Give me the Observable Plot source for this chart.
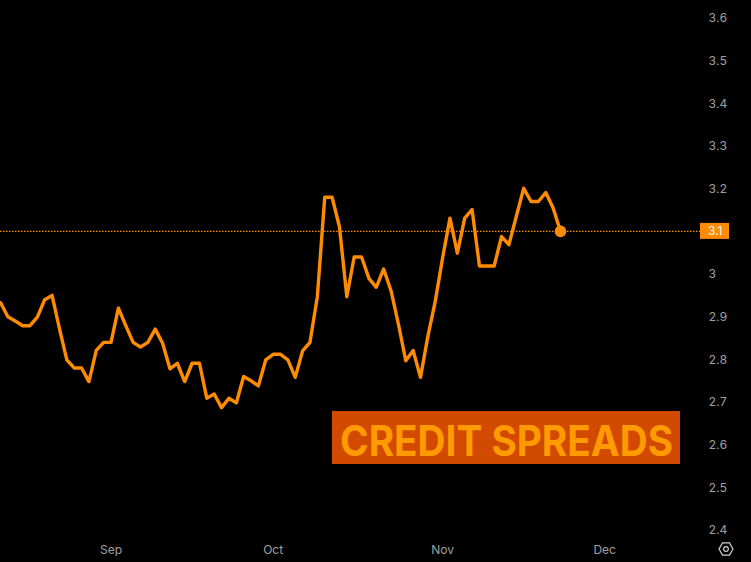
<!DOCTYPE html>
<html><head><meta charset="utf-8">
<script src="https://cdn.jsdelivr.net/npm/d3@7"></script>
<script src="https://cdn.jsdelivr.net/npm/@observablehq/plot@0.6"></script>
<style>
html,body{margin:0;padding:0;background:#000;}
#chart{position:relative;width:751px;height:562px;overflow:hidden;}
</style></head><body><div id="chart"></div>
<script>
// Daily credit spread readings (one per trading day)
const spreadValues = [
  2.934, 2.901, 2.891, 2.880, 2.880, 2.900, 2.941, 2.951, 2.873, 2.800,
  2.781, 2.781, 2.749, 2.822, 2.841, 2.841, 2.921, 2.880, 2.841, 2.830,
  2.841, 2.872, 2.839, 2.779, 2.792, 2.749, 2.792, 2.792, 2.710, 2.720,
  2.688, 2.710, 2.699, 2.761, 2.751, 2.739, 2.800, 2.813, 2.813, 2.800,
  2.759, 2.821, 2.841, 2.948, 3.181, 3.181, 3.112, 2.948, 3.041, 3.041,
  2.991, 2.970, 3.013, 2.962, 2.884, 2.798, 2.822, 2.759, 2.855, 2.937,
  3.039, 3.132, 3.050, 3.132, 3.152, 3.020, 3.020, 3.020, 3.089, 3.070,
  3.136, 3.202, 3.171, 3.171, 3.192, 3.156, 3.101
];
// Month labels and the trading-day index where each month begins
const monthLabels = ["Sep", "Oct", "Nov", "Dec"];
const monthStartBar = [15, 37, 60, 82];
const yTicks = [2.4, 2.5, 2.6, 2.7, 2.8, 2.9, 3.0, 3.1, 3.2, 3.3, 3.4, 3.5, 3.6];
const chartTitle = "CREDIT SPREADS";

const ORANGE = "#ff8c00";
const FONT = "Inter, Roboto, sans-serif";
const data = spreadValues.map((v, i) => ({i, v}));
const last = data[data.length - 1];
const fmtTick = d3.format("~g");
const lastLabel = d3.format(".1f")(last.v);
const shownTicks = yTicks.filter(d => fmtTick(d) !== lastLabel);

const plot = Plot.plot({
  width: 751, height: 562,
  marginLeft: 0, marginRight: 51, marginTop: 18, marginBottom: 32,
  style: {background: "#000", color: "#a0a0a0", fontFamily: FONT, fontSize: "12px", overflow: "visible"},
  x: {domain: [0, 95], axis: null},
  y: {domain: [2.4, 3.6], axis: null},
  marks: [
    Plot.ruleY([last.v], {stroke: ORANGE, strokeWidth: 1.3, strokeDasharray: "1.5,1.5"}),
    Plot.axisY(shownTicks, {anchor: "right", label: null, tickSize: 0, tickPadding: 8, tickFormat: fmtTick, fill: "#a0a0a0", textAnchor: "start"}),
    Plot.axisX(monthStartBar, {anchor: "bottom", label: null, tickSize: 0, tickPadding: 15, fill: "#a0a0a0",
      tickFormat: d => monthLabels[monthStartBar.indexOf(d)]}),
    Plot.line(data, {x: "i", y: "v", stroke: ORANGE, strokeWidth: 3.4, strokeLinejoin: "round", strokeLinecap: "round"}),
    Plot.dot([last], {x: "i", y: "v", r: 5.8, fill: ORANGE})
  ]
});

document.getElementById("chart").appendChild(plot);

const svg = d3.select(plot);
const yScale = plot.scale("y");
const xScale = plot.scale("x");
const yLast = yScale.apply(last.v);
const xRight = xScale.range[1];

// Last value badge
const badge = svg.append("g");
badge.append("rect").attr("x", xRight).attr("y", yLast - 8).attr("width", 29).attr("height", 16).attr("fill", ORANGE);
badge.append("text").attr("x", xRight + 8).attr("y", yLast).attr("dy", "0.35em")
  .attr("text-anchor", "start")
  .attr("fill", "#fff7ea").attr("font-size", 12).attr("font-family", FONT)
  .text(lastLabel);

// Title annotation box
const t = svg.append("g");
t.append("rect").attr("x", 332).attr("y", 411).attr("width", 348).attr("height", 53).attr("fill", "#d14a00");
t.append("text").attr("x", 340).attr("y", 455.5)
  .attr("text-anchor", "start")
  .attr("fill", "#ff9a00").attr("font-size", 42).attr("font-weight", 700)
  .attr("font-family", FONT)
  .attr("textLength", 333).attr("lengthAdjust", "spacingAndGlyphs")
  .text(chartTitle);

// Settings icon
const ic = svg.append("g").attr("transform", "translate(726,549)").attr("fill", "none").attr("stroke", "#d0d0d0").attr("stroke-width", 1.2);
const hex = d3.range(6).map(k => { const a = Math.PI / 3 * k; return [7 * Math.cos(a), 7 * Math.sin(a)]; });
ic.append("polygon").attr("points", hex.map(p => p.join(",")).join(" "));
ic.append("circle").attr("r", 2.3);
</script>
</body></html>
